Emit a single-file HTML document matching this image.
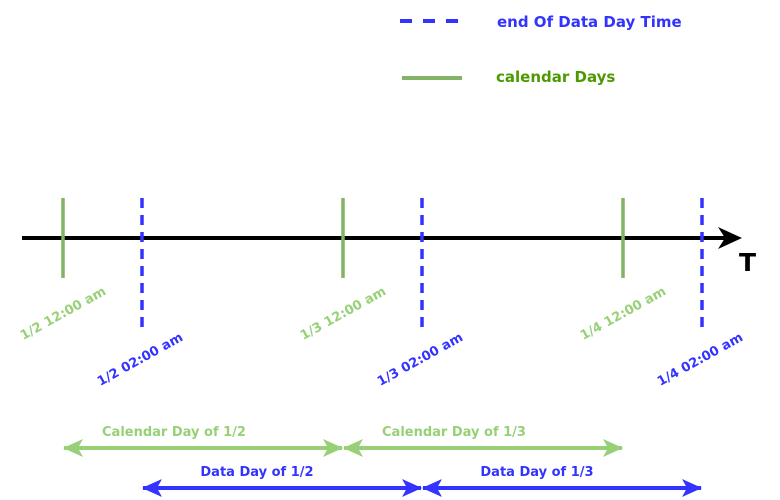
<!DOCTYPE html>
<html><head><meta charset="utf-8"><style>
body{margin:0;background:#fff}
svg{display:block}
text{font-family:"DejaVu Sans","Liberation Sans",sans-serif;font-weight:bold}
</style></head><body>
<svg id="c" width="780" height="500" xmlns="http://www.w3.org/2000/svg">
<defs>
<marker id="ga" viewBox="0 0 20 20" refX="19" refY="10" markerWidth="20" markerHeight="20" markerUnits="userSpaceOnUse" orient="auto-start-reverse"><path d="M0,1 L20,10 L0,19 L5,10 Z" fill="#97d077"/></marker>
<marker id="ba" viewBox="0 0 20 20" refX="19" refY="10" markerWidth="20" markerHeight="20" markerUnits="userSpaceOnUse" orient="auto-start-reverse"><path d="M0,1 L20,10 L0,19 L5,10 Z" fill="#3333ff"/></marker>
</defs>
<g>
<line x1="400" y1="21" x2="460" y2="21" stroke="#3333ff" stroke-width="4" stroke-dasharray="12,11"/>
<text x="497" y="27" font-size="15" fill="#3333ff">end Of Data Day Time</text>
<line x1="402" y1="78" x2="462" y2="78" stroke="#82b366" stroke-width="4"/>
<text x="496" y="82" font-size="15" fill="#4d9900">calendar Days</text>
</g>
<line x1="22" y1="238" x2="730" y2="238" stroke="#000" stroke-width="4"/>
<path d="M718,227 L742,238 L718,249 L725,238 Z" fill="#000"/>
<text x="739" y="271" font-size="25" fill="#000">T</text>
<g id="marks"></g>
</svg>
<script>
const days = ['1/2', '1/3', '1/4'];
const calendarHour = [0, 0, 0];
const dataEndHour = [2, 2, 2];
const calendarLabels = ['1/2 12:00 am', '1/3 12:00 am', '1/4 12:00 am'];
const dataLabels = ['1/2 02:00 am', '1/3 02:00 am', '1/4 02:00 am'];
const calendarSpans = ['Calendar Day of 1/2', 'Calendar Day of 1/3'];
const dataSpans = ['Data Day of 1/2', 'Data Day of 1/3'];

const NS = 'http://www.w3.org/2000/svg';
const g = document.getElementById('marks');
function xScale(dayIdx, hour){ return 63 + dayIdx*280 + hour*39.5; }
function mk(tag, attrs, text){
  const e = document.createElementNS(NS, tag);
  for (const k in attrs) e.setAttribute(k, attrs[k]);
  if (text) e.textContent = text;
  g.appendChild(e);
  return e;
}
days.forEach((d,i)=>{
  const xc = xScale(i, calendarHour[i]);
  let l = mk('line', {x1:xc, y1:198, x2:xc, y2:278, stroke:'#82b366', 'stroke-width':3.5});
  
  
  let t = mk('text', {x:0, y:0, 'font-size':13, fill:'#97d077', 'text-anchor':'middle', transform:`translate(${xc+2},${317}) rotate(-29)`}, calendarLabels[i]);
  
  
  const xd = xScale(i, dataEndHour[i]);
  let b = mk('line', {x1:xd, y1:198, x2:xd, y2:328, stroke:'#3333ff', 'stroke-width':3.5, 'stroke-dasharray':'10,7'});
  
  
  let bt = mk('text', {x:0, y:0, 'font-size':13, fill:'#3333ff', 'text-anchor':'middle', transform:`translate(${xd},${363}) rotate(-29)`}, dataLabels[i]);
  
  
});
calendarSpans.forEach((s,i)=>{
  const x1 = xScale(i, calendarHour[i]), x2 = xScale(i+1, calendarHour[i+1]);
  let a = mk('line', {x1:x1+1, y1:448, x2:x2-1, y2:448, stroke:'#97d077', 'stroke-width':4, 'marker-start':'url(#ga)', 'marker-end':'url(#ga)'});
  
  
  let t = mk('text', {x:(x1+x2)/2-29, y:436, 'font-size':13, fill:'#97d077', 'text-anchor':'middle'}, s);
  
  
});
dataSpans.forEach((s,i)=>{
  const x1 = xScale(i, dataEndHour[i]), x2 = xScale(i+1, dataEndHour[i+1]);
  let a = mk('line', {x1:x1+1, y1:488, x2:x2-1, y2:488, stroke:'#3333ff', 'stroke-width':4, 'marker-start':'url(#ba)', 'marker-end':'url(#ba)'});
  
  
  let t = mk('text', {x:(x1+x2)/2-25, y:476, 'font-size':13, fill:'#3333ff', 'text-anchor':'middle'}, s);
  
  
});
</script>
</body></html>
